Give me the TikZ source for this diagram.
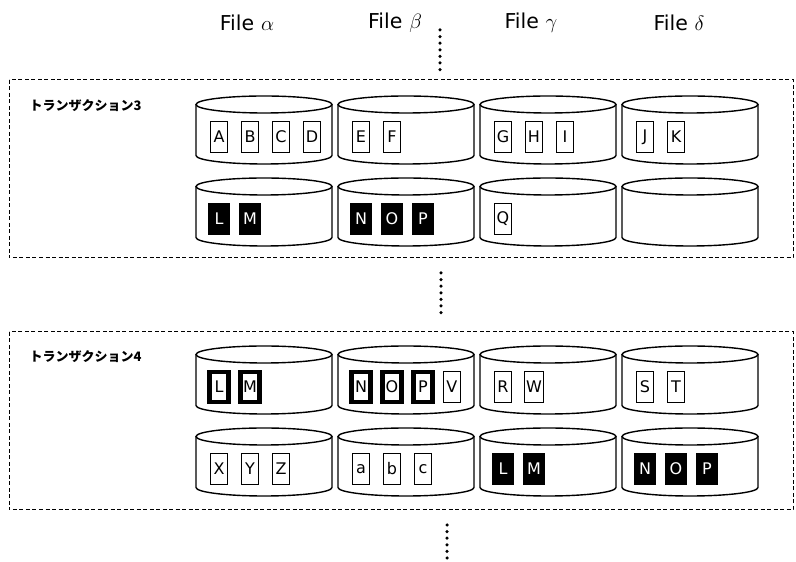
\documentclass[tikz,border=0pt]{standalone}
\usepackage{fontspec}
\setmainfont{DejaVu Sans}
\newfontfamily\cjk{Noto Sans CJK JP}
\usetikzlibrary{positioning}

\tikzset{
  drumline/.style={line width=1.4pt},
  cell/.style={draw, line width=1pt, minimum width=17pt, minimum height=31pt,
    inner sep=1.5pt, font=\fontsize{16}{16}\selectfont},
  cellblack/.style={cell, fill=black, text=white, minimum width=21pt},
  cellbold/.style={cell, line width=4.5pt, minimum width=19pt, minimum height=30pt},
  frame/.style={draw, line width=1pt, dash pattern=on 4pt off 2.5pt},
  dots/.style={line width=3.5pt, line cap=round, dash pattern=on 0pt off 6.6pt},
  head/.style={font=\fontsize{20.5}{20.5}\selectfont},
  trans/.style={anchor=west, font=\cjk\bfseries\fontsize{13}{13}\selectfont},
}

% one drum: #1 centre x, #2 centre y of the top ellipse
\newcommand{\drum}[2]{%
  \draw[drumline] (#1,#2) ellipse (68pt and 8.5pt);
  \draw[drumline] (#1-68,#2) -- (#1-68,#2-51)
    arc[start angle=180, end angle=360, x radius=68pt, y radius=8.5pt] -- (#1+68,#2);
}
% a row of cells in a drum: #1 name, #2 drum x, #3 y, #4 style, #5 letters
\newcommand{\cellrow}[5]{%
  \foreach \t [count=\i from 0] in {#5}
    \node[#4] (#1\t) at (#2-45+31*\i, #3) {\t};
}

\begin{document}
\begin{tikzpicture}[x=1pt, y=1pt]
  \useasboundingbox (0,0) rectangle (796,562);

  % headers
  \node[head] (fa) at (247,539) {File\,\,$\alpha$};
  \node[head] (fb) at (395,539) {File\,\,$\beta$};
  \node[head] (fc) at (531,539) {File\,\,$\gamma$};
  \node[head] (fd) at (679,539) {File\,\,$\delta$};

  \draw[dots] (440,532) -- (440,492);

  % transaction 3
  \draw[frame] (9,482) rectangle (793,304);
  \node[trans] (t3) at (26,456) {トランザクション3};
  \foreach \x in {264,406,548,690} {
    \drum{\x}{457.5}
    \drum{\x}{375.5}
  }
  \cellrow{t3a}{264}{425}{cell}{A,B,C,D}
  \cellrow{t3a}{406}{425}{cell}{E,F}
  \cellrow{t3a}{548}{425}{cell}{G,H,I}
  \cellrow{t3a}{690}{425}{cell}{J,K}
  \cellrow{t3b}{264}{343}{cellblack}{L,M}
  \cellrow{t3b}{406}{343}{cellblack}{N,O,P}
  \cellrow{t3b}{548}{343}{cell}{Q}

  \draw[dots] (441,289) -- (441,249);

  % transaction 4
  \draw[frame] (9,230) rectangle (793,52);
  \node[trans] (t4) at (26,205) {トランザクション4};
  \foreach \x in {264,406,548,690} {
    \drum{\x}{207.5}
    \drum{\x}{125.5}
  }
  \cellrow{t4a}{264}{175}{cellbold}{L,M}
  \cellrow{t4a}{406}{175}{cellbold}{N,O,P}
  \node[cell, right=8pt of t4aP] (t4aV) {V};
  \cellrow{t4a}{548}{175}{cell}{R,W}
  \cellrow{t4a}{690}{175}{cell}{S,T}
  \cellrow{t4b}{264}{93}{cell}{X,Y,Z}
  \cellrow{t4b}{406}{93}{cell}{a,b,c}
  \cellrow{t4b}{548}{93}{cellblack}{L,M}
  \cellrow{t4b}{690}{93}{cellblack}{N,O,P}

  \draw[dots] (447,37) -- (447,2);
\end{tikzpicture}
\end{document}
